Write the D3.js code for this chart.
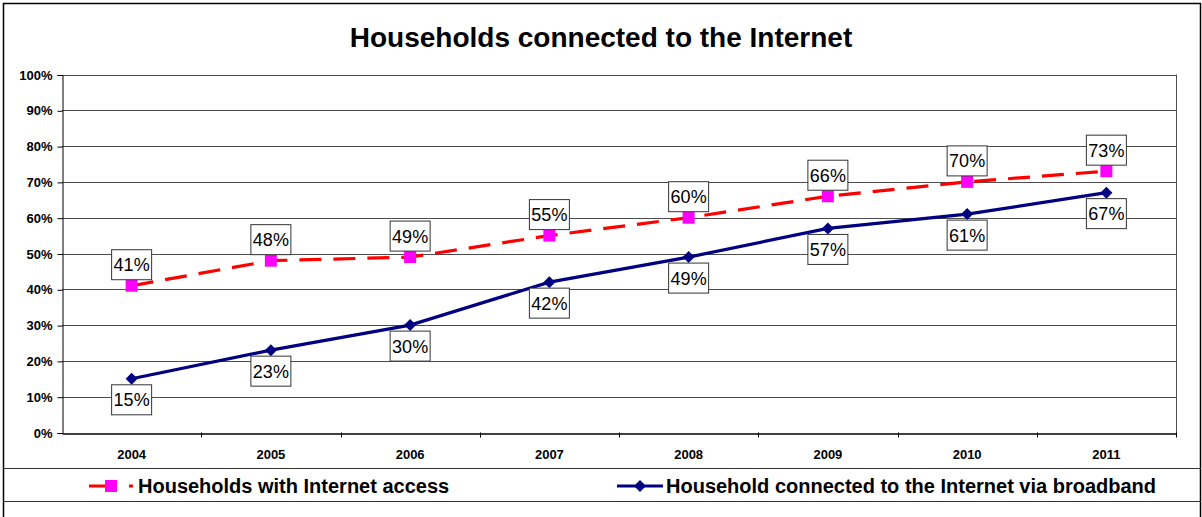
<!DOCTYPE html>
<html>
<head>
<meta charset="utf-8">
<script src="https://cdn.jsdelivr.net/npm/d3@7"></script>
<style>
  html, body { margin: 0; padding: 0; background: #fff; }
  svg { display: block; font-family: Arial, "Liberation Sans", sans-serif; }
</style>
</head>
<body>
<svg id="chart" width="1202" height="517"></svg>
<script>
// Chart data
const years = ["2004", "2005", "2006", "2007", "2008", "2009", "2010", "2011"];
const internetAccess = [41, 48, 49, 55, 60, 66, 70, 73];
const broadband = [15, 23, 30, 42, 49, 57, 61, 67];
const yTicks = [0, 10, 20, 30, 40, 50, 60, 70, 80, 90, 100];
const seriesNames = ["Households with Internet access", "Household connected to the Internet via broadband"];
const title = "Households connected to the Internet";

const W = 1202, H = 517;
const plot = { left: 62, right: 1176, top: 74.5, bottom: 432.5 };

const svg = d3.select("#chart");

// Outer frame
svg.append("rect")
  .attr("x", 3.5).attr("y", 3.5)
  .attr("width", 1197).attr("height", H + 10)
  .attr("fill", "#fff").attr("stroke", "#000").attr("stroke-width", 1.5);

// Title
svg.append("text")
  .attr("x", 601).attr("y", 47)
  .attr("text-anchor", "middle")
  .attr("font-size", 28).attr("font-weight", "bold")
  .text(title);

const x = d3.scaleBand().domain(years).range([plot.left, plot.right]).padding(0);
const y = d3.scaleLinear().domain([0, 100]).range([plot.bottom, plot.top]);
const cx = d => x(d) + x.bandwidth() / 2;

// Horizontal gridlines
svg.append("g").selectAll("line").data(yTicks.filter(t => t > 0)).join("line")
  .attr("x1", plot.left).attr("x2", plot.right)
  .attr("y1", d => Math.round(y(d)) + 0.5).attr("y2", d => Math.round(y(d)) + 0.5)
  .attr("stroke", "#4d4d4d").attr("stroke-width", 1);

// Right plot border
svg.append("line")
  .attr("x1", plot.right + 0.5).attr("x2", plot.right + 0.5)
  .attr("y1", y(100)).attr("y2", y(0) + 4)
  .attr("stroke", "#4d4d4d");

// Y axis
const yAxis = d3.axisLeft(y).tickValues(yTicks).tickFormat(d => d + "%").tickSize(5).tickPadding(5);
const gy = svg.append("g").attr("transform", `translate(${plot.left + 0.5},0.5)`).call(yAxis);
gy.select(".domain").attr("stroke", "#000");
gy.selectAll(".tick line").attr("stroke", "#000");
gy.selectAll("text").attr("font-size", 13).attr("font-weight", "bold").attr("fill", "#000")
  .attr("font-family", "Arial, 'Liberation Sans', sans-serif");

// X axis with ticks at category boundaries
const xAxis = d3.axisBottom(x).tickSize(0).tickPadding(16);
const gx = svg.append("g").attr("transform", `translate(0,${Math.round(plot.bottom) + 0.5})`).call(xAxis);
gx.select(".domain").attr("stroke", "#000").attr("stroke-width", 1.5);
gx.selectAll("text").attr("font-size", 13).attr("font-weight", "bold").attr("fill", "#000")
  .attr("font-family", "Arial, 'Liberation Sans', sans-serif");
svg.append("g").selectAll("line").data(years.slice(1).concat(["end"])).join("line")
  .attr("x1", (d, i) => Math.round(plot.left + x.bandwidth() * (i + 1)) + 0.5)
  .attr("x2", (d, i) => Math.round(plot.left + x.bandwidth() * (i + 1)) + 0.5)
  .attr("y1", plot.bottom).attr("y2", plot.bottom + 5)
  .attr("stroke", "#000");

// Series lines
const line = d3.line().x((d, i) => cx(years[i])).y(d => y(d));

svg.append("path").datum(internetAccess)
  .attr("d", line).attr("fill", "none")
  .attr("stroke", "#ff0000").attr("stroke-width", 3.2)
  .attr("stroke-dasharray", "22,12");

svg.append("path").datum(broadband)
  .attr("d", line).attr("fill", "none")
  .attr("stroke", "#000080").attr("stroke-width", 3.2);

// Markers
svg.append("g").selectAll("rect").data(internetAccess).join("rect")
  .attr("x", (d, i) => cx(years[i]) - 6).attr("y", d => y(d) - 6)
  .attr("width", 12).attr("height", 12)
  .attr("fill", "#ff00ff");

const diamond = s => `M0,${-s}L${s},0L0,${s}L${-s},0Z`;
svg.append("g").selectAll("path").data(broadband).join("path")
  .attr("transform", (d, i) => `translate(${cx(years[i])},${y(d)})`)
  .attr("d", diamond(6))
  .attr("fill", "#000080");

// Data labels in white boxes
function labels(values, offset) {
  const g = svg.append("g").selectAll("g").data(values).join("g")
    .attr("transform", (d, i) => `translate(${cx(years[i])},${y(d) + offset})`);
  g.append("rect")
    .attr("x", -20).attr("y", -15).attr("width", 40).attr("height", 30)
    .attr("fill", "#fff").attr("stroke", "#333").attr("stroke-width", 1);
  g.append("text")
    .attr("text-anchor", "middle").attr("dy", "0.36em")
    .attr("font-size", 18).attr("fill", "#000")
    .text(d => d + "%");
}
labels(internetAccess, -21);
labels(broadband, 21);

// Legend band
[468.5, 501.5].forEach(yy => {
  svg.append("line").attr("x1", 3).attr("x2", 1201).attr("y1", yy).attr("y2", yy)
    .attr("stroke", "#333").attr("stroke-width", 1.2);
});

const legY = 486;
const leg1 = svg.append("g");
leg1.append("line").attr("x1", 89).attr("x2", 133).attr("y1", legY).attr("y2", legY)
  .attr("stroke", "#ff0000").attr("stroke-width", 3.2).attr("stroke-dasharray", "22,18");
leg1.append("rect").attr("x", 105).attr("y", legY - 6).attr("width", 12).attr("height", 12).attr("fill", "#ff00ff");
leg1.append("text").attr("x", 138).attr("y", legY + 7)
  .attr("font-size", 20).attr("font-weight", "bold").text(seriesNames[0]);

const leg2 = svg.append("g");
leg2.append("line").attr("x1", 617).attr("x2", 663).attr("y1", legY).attr("y2", legY)
  .attr("stroke", "#000080").attr("stroke-width", 3.2);
leg2.append("path").attr("transform", `translate(640,${legY})`).attr("d", diamond(6)).attr("fill", "#000080");
leg2.append("text").attr("x", 666).attr("y", legY + 7)
  .attr("font-size", 20).attr("font-weight", "bold").text(seriesNames[1]);
</script>
</body>
</html>
